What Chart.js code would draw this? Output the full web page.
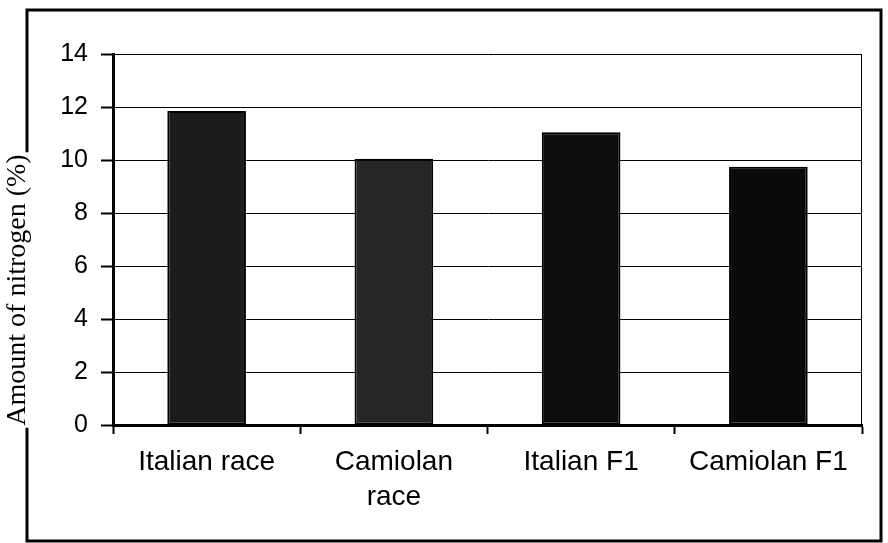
<!DOCTYPE html>
<html>
<head>
<meta charset="utf-8">
<script src="https://cdn.jsdelivr.net/npm/chart.js@4/dist/chart.umd.min.js"></script>
<style>
  html, body { margin: 0; padding: 0; background: #fff; }
  #wrap { width: 888px; height: 543px; }
</style>
</head>
<body>
<div id="wrap"><canvas id="chart" width="888" height="543"></canvas></div>
<script>
  // Nitrogen content per bee group
  const categories = ['Italian race', ['Camiolan', 'race'], 'Italian F1', 'Camiolan F1'];
  const nitrogenValues = [11.85, 10.05, 11.05, 9.75];
  const yTicks = [0, 2, 4, 6, 8, 10, 12, 14];
  const yTitle = 'Amount of nitrogen (%)';

  const barFills = ['#1c1c1c', '#262626', '#0d0d0d', '#0a0a0a'];

  // Outer frame + rotated axis title (frame is broken where the title sits)
  const framePlugin = {
    id: 'frameAndTitle',
    afterDraw(chart) {
      const ctx = chart.ctx;
      const area = chart.chartArea;
      ctx.save();

      // thin right edge of the plot area
      ctx.beginPath();
      ctx.strokeStyle = '#000';
      ctx.lineWidth = 1;
      ctx.moveTo(area.right - 0.5, area.top);
      ctx.lineTo(area.right - 0.5, area.bottom);
      ctx.stroke();

      // title
      ctx.font = '28px "Liberation Serif", "Times New Roman", serif';
      const tw = ctx.measureText(yTitle).width;
      const cx = 18, cy = 290;
      ctx.save();
      ctx.translate(cx, cy);
      ctx.rotate(-Math.PI / 2);
      ctx.fillStyle = '#000';
      ctx.textAlign = 'center';
      ctx.textBaseline = 'middle';
      ctx.fillText(yTitle, 0, 0);
      ctx.restore();

      // frame
      const L = 27, T = 10, R = 881, B = 541;
      ctx.lineWidth = 3;
      ctx.beginPath();
      ctx.moveTo(L, cy - tw / 2 - 2);
      ctx.lineTo(L, T);
      ctx.lineTo(R, T);
      ctx.lineTo(R, B);
      ctx.lineTo(L, B);
      ctx.lineTo(L, cy + tw / 2 + 2);
      ctx.stroke();
      ctx.restore();
    },
  };

  new Chart(document.getElementById('chart'), {
    type: 'bar',
    data: {
      labels: categories,
      datasets: [{
        data: nitrogenValues,
        backgroundColor: barFills,
        borderColor: '#000',
        borderWidth: 2,
        borderSkipped: false,
        barPercentage: 0.42,
        categoryPercentage: 1,
      }],
    },
    options: {
      responsive: false,
      animation: false,
      layout: { padding: { left: 0, top: 54, right: 26, bottom: 0 } },
      plugins: {
        legend: { display: false },
        tooltip: { enabled: false },
      },
      scales: {
        x: {
          afterFit(scale) { scale.height = 118; },
          grid: {
            drawOnChartArea: false,
            drawTicks: true,
            tickLength: 9,
            tickColor: '#000',
            tickWidth: 2,
            offset: true,
          },
          border: { display: true, color: '#000', width: 3 },
          ticks: {
            color: '#000',
            padding: 11,
            maxRotation: 0,
            autoSkip: false,
            font: { family: '"Liberation Sans", Arial, sans-serif', size: 28, lineHeight: 1.25 },
          },
        },
        y: {
          min: 0,
          max: 14,
          afterFit(scale) { scale.width = 113; },
          afterBuildTicks(scale) { scale.ticks = yTicks.map(v => ({ value: v })); },
          grid: {
            color: '#000',
            lineWidth: 1,
            drawTicks: true,
            tickLength: 12,
            tickColor: '#000',
            tickWidth: 2,
          },
          border: { display: true, color: '#000', width: 3 },
          ticks: {
            color: '#000',
            padding: 13,
            font: { family: '"Liberation Sans", Arial, sans-serif', size: 25 },
          },
        },
      },
    },
    plugins: [framePlugin],
  });
</script>
</body>
</html>
